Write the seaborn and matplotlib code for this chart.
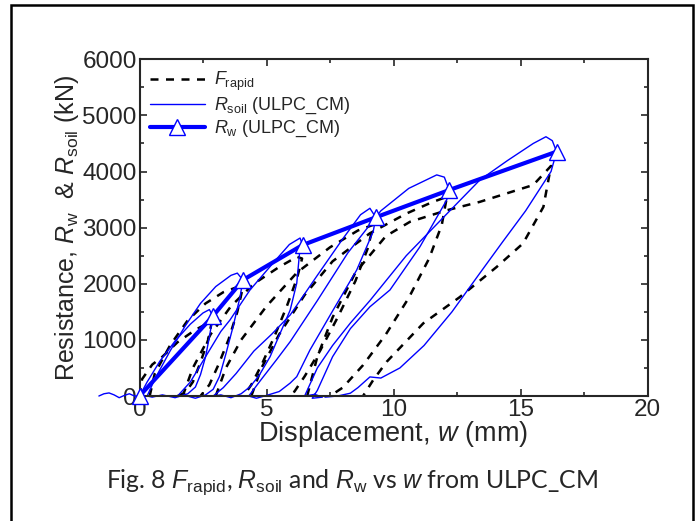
import numpy as np
import pandas as pd
import matplotlib
matplotlib.use("Agg")
import matplotlib.pyplot as plt
from matplotlib.lines import Line2D
from matplotlib.patches import Rectangle
from matplotlib.ticker import MultipleLocator
import seaborn as sns

sns.set_style("ticks")
plt.rcParams["font.family"] = ["Liberation Sans", "DejaVu Sans"]
plt.rcParams["mathtext.fontset"] = "custom"
plt.rcParams["mathtext.rm"] = "Liberation Sans"
plt.rcParams["mathtext.it"] = "Liberation Sans:italic"

BLUE = "#0000FF"

# ── R_w envelope (triangles) ─────────────────────────────────────────────
rw_x = [0.0, 2.89, 4.07, 6.42, 9.30, 12.19, 16.42]
rw_y = [0, 1425, 2067, 2690, 3184, 3670, 4354]

# ── R_soil loops (thin blue), one list per blow ──────────────────────────
pre_x = [-1.6, -1.4, -1.2, -1.0, -0.8, -0.6, -0.4, -0.2, 0.0]
pre_y = [0, 40, 55, 20, -30, 10, 40, 0, 0]

rs1_x = [0.0, 0.3, 0.8, 1.4, 2.0, 2.5, 2.75, 2.89, 2.75, 2.6, 2.4, 2.2, 1.9, 1.4, 0.9, 0.5, 0.3]
rs1_y = [0, 250, 620, 980, 1280, 1480, 1540, 1425, 1050, 700, 380, 160, 40, -30, 20, -20, 0]

rs2_x = [0.3, 0.6, 1.2, 1.8, 2.4, 3.0, 3.6, 3.85, 4.07, 3.96, 3.68, 3.4, 3.15, 2.9, 2.6, 2.2, 1.8, 1.5]
rs2_y = [0, 300, 800, 1250, 1650, 1950, 2150, 2190, 2067, 1770, 1230, 750, 350, 120, 20, -40, 10, 0]

rs3_x = [1.5, 2.0, 2.6, 3.2, 3.56, 4.35, 5.26, 5.9, 6.32, 6.42, 6.3, 6.19, 5.93, 5.5, 5.14, 4.7,
         4.35, 4.0, 3.6, 3.2, 2.9]
rs3_y = [0, 250, 700, 1150, 1354, 1890, 2370, 2700, 2815, 2690, 2550, 2010, 1530, 1080, 700, 360,
         165, 40, -30, 20, 0]

rs4_x = [2.9, 3.3, 3.8, 4.5, 5.2, 5.93, 7.0, 8.0, 8.7, 9.07, 9.3, 9.2, 8.55, 7.62, 6.71, 6.19,
         5.93, 5.5, 5.0, 4.6, 4.3]
rs4_y = [0, 150, 400, 800, 1100, 1443, 2150, 2800, 3230, 3345, 3184, 2930, 2245, 1530, 820, 345,
         230, 80, 10, -40, 0]

rs5_x = [4.3, 4.8, 5.4, 5.93, 7.0, 8.2, 9.5, 10.6, 11.7, 12.0, 12.19, 12.09, 11.04, 9.86, 9.07,
         8.3, 7.6, 7.2, 7.0, 6.8, 7.2, 6.9, 6.5]
rs5_y = [0, 300, 650, 968, 1700, 2550, 3300, 3700, 3940, 3900, 3670, 3490, 2660, 1890, 1590,
         1200, 700, 300, 100, -40, -20, 30, 0]

rs6_x = [6.5, 7.0, 7.6, 8.3, 9.07, 10.5, 12.0, 13.4, 14.5, 15.5, 16.0, 16.25, 16.42, 16.2, 15.2,
         14.3, 13.4, 12.3, 11.2, 10.25, 9.5, 9.07, 8.6, 8.3, 7.8, 7.3]
rs6_y = [0, 500, 900, 1300, 1700, 2500, 3200, 3850, 4200, 4500, 4620, 4550, 4354, 4000, 3300,
         2750, 2190, 1500, 900, 500, 320, 340, 150, 50, 0, -20]

# ── F_rapid loops (black dashed) ─────────────────────────────────────────
fr1_x = [0.0, 0.1, 0.5, 0.9, 1.5, 2.2, 2.7, 2.85, 2.7, 2.4, 2.1, 1.8, 1.5]
fr1_y = [0, 300, 560, 700, 960, 1180, 1300, 1330, 1000, 600, 250, 60, 0]

fr2_x = [0.4, 0.6, 1.2, 1.9, 2.6, 3.3, 3.9, 4.05, 3.85, 3.5, 3.1, 2.75, 2.4]
fr2_y = [0, 400, 900, 1350, 1650, 1850, 1950, 1900, 1500, 1000, 550, 200, 0]

fr3_x = [1.7, 2.1, 2.8, 3.6, 4.5, 5.5, 6.2, 6.4, 6.2, 5.8, 5.3, 4.8, 4.4, 4.1]
fr3_y = [0, 500, 1100, 1600, 2000, 2300, 2480, 2450, 2100, 1600, 1050, 550, 200, 0]

fr4_x = [3.0, 3.4, 4.0, 5.0, 6.2, 7.5, 8.6, 9.2, 9.0, 8.5, 7.8, 7.1, 6.5, 6.1, 5.8]
fr4_y = [0, 500, 1000, 1600, 2200, 2650, 2950, 3050, 2650, 2050, 1400, 800, 350, 80, 0]

fr5_x = [4.4, 4.8, 5.5, 6.5, 7.6, 9.07, 10.5, 11.5, 12.1, 11.9, 11.4, 10.6, 9.7, 8.8, 8.0, 7.5]
fr5_y = [0, 500, 1100, 1800, 2400, 2900, 3250, 3450, 3550, 3050, 2450, 1750, 1100, 550, 150, 0]

fr6_x = [6.6, 7.0, 7.6, 8.5, 9.7, 10.65, 12.1, 13.4, 15.5, 16.2, 15.9, 15.1, 14.06, 12.6, 11.17,
         9.73, 9.2, 8.8]
fr6_y = [0, 700, 1400, 2200, 2850, 3105, 3310, 3460, 3760, 4100, 3370, 2720, 2300, 1760, 1295,
         610, 285, 0]

rsoil = [(pre_x, pre_y), (rs1_x, rs1_y), (rs2_x, rs2_y), (rs3_x, rs3_y),
         (rs4_x, rs4_y), (rs5_x, rs5_y), (rs6_x, rs6_y)]
frapid = [(fr1_x, fr1_y), (fr2_x, fr2_y), (fr3_x, fr3_y),
          (fr4_x, fr4_y), (fr5_x, fr5_y), (fr6_x, fr6_y)]

fig = plt.figure(figsize=(6.99, 5.21), dpi=100)
ax = fig.add_axes([0.1996, 0.2399, 0.7268, 0.6463])

DASH = (0, (3.2, 3.0))
for xs, ys in frapid:
    d = pd.DataFrame({"w": xs, "F": ys})
    sns.lineplot(data=d, x="w", y="F", sort=False, estimator=None, ax=ax,
                 color="black", lw=1.8, linestyle=DASH, clip_on=False)

for xs, ys in rsoil:
    d = pd.DataFrame({"w": xs, "R": ys})
    sns.lineplot(data=d, x="w", y="R", sort=False, estimator=None, ax=ax,
                 color=BLUE, lw=1.0, clip_on=False)

d = pd.DataFrame({"w": rw_x, "R": rw_y})
sns.lineplot(data=d, x="w", y="R", sort=False, estimator=None, ax=ax, color=BLUE, lw=3.0,
             marker="^", markersize=12, markerfacecolor="white", markeredgecolor=BLUE,
             markeredgewidth=1.0, clip_on=False, zorder=5)

ax.set_xlim(0, 20)
ax.set_ylim(0, 6000)
ax.xaxis.set_major_locator(MultipleLocator(5))
ax.xaxis.set_minor_locator(MultipleLocator(2.5))
ax.yaxis.set_major_locator(MultipleLocator(1000))
ax.yaxis.set_minor_locator(MultipleLocator(500))
ax.tick_params(which="both", direction="in", top=True, right=True, width=1.2)
ax.tick_params(which="major", length=5, labelsize=17.5, pad=2)
ax.tick_params(which="minor", length=3)
for s in ax.spines.values():
    s.set_linewidth(1.5)

ax.set_xlabel("Displacement, $w$ (mm)", fontsize=19.5, labelpad=-1)
ax.set_ylabel(r"Resistance, $R_{\mathrm{w}}$  & $R_{\mathrm{soil}}$ (kN)", fontsize=18, labelpad=1)

handles = [
    Line2D([], [], color="black", lw=1.8, linestyle=DASH),
    Line2D([], [], color=BLUE, lw=1.0),
    Line2D([], [], color=BLUE, lw=3.0, marker="^", markersize=12,
           markerfacecolor="white", markeredgecolor=BLUE, markeredgewidth=1.0),
]
labels = [r"$F_{\mathrm{rapid}}$", r"$R_{\mathrm{soil}}$ (ULPC_CM)", r"$R_{\mathrm{w}}$ (ULPC_CM)"]
ax.legend(handles, labels, loc="upper left", frameon=False, fontsize=13,
          handlelength=3.0, handletextpad=0.5, labelspacing=0.15,
          borderaxespad=0.2)

fig.text(0.503, 0.075, r"Fig. 8 $F_{\mathrm{rapid}}$, $R_{\mathrm{soil}}$ and $R_{\mathrm{w}}$ vs $w$ from ULPC_CM",
         ha="center", va="center", fontsize=17.8, family=["Lato", "DejaVu Sans"])

fig.patches.append(Rectangle((11 / 699, -0.05), (693 - 11) / 699, (521 - 5) / 521 + 0.05,
                             transform=fig.transFigure, fill=False, edgecolor="black",
                             lw=1.8, clip_on=False))

fig.savefig("out.png", dpi=100)
